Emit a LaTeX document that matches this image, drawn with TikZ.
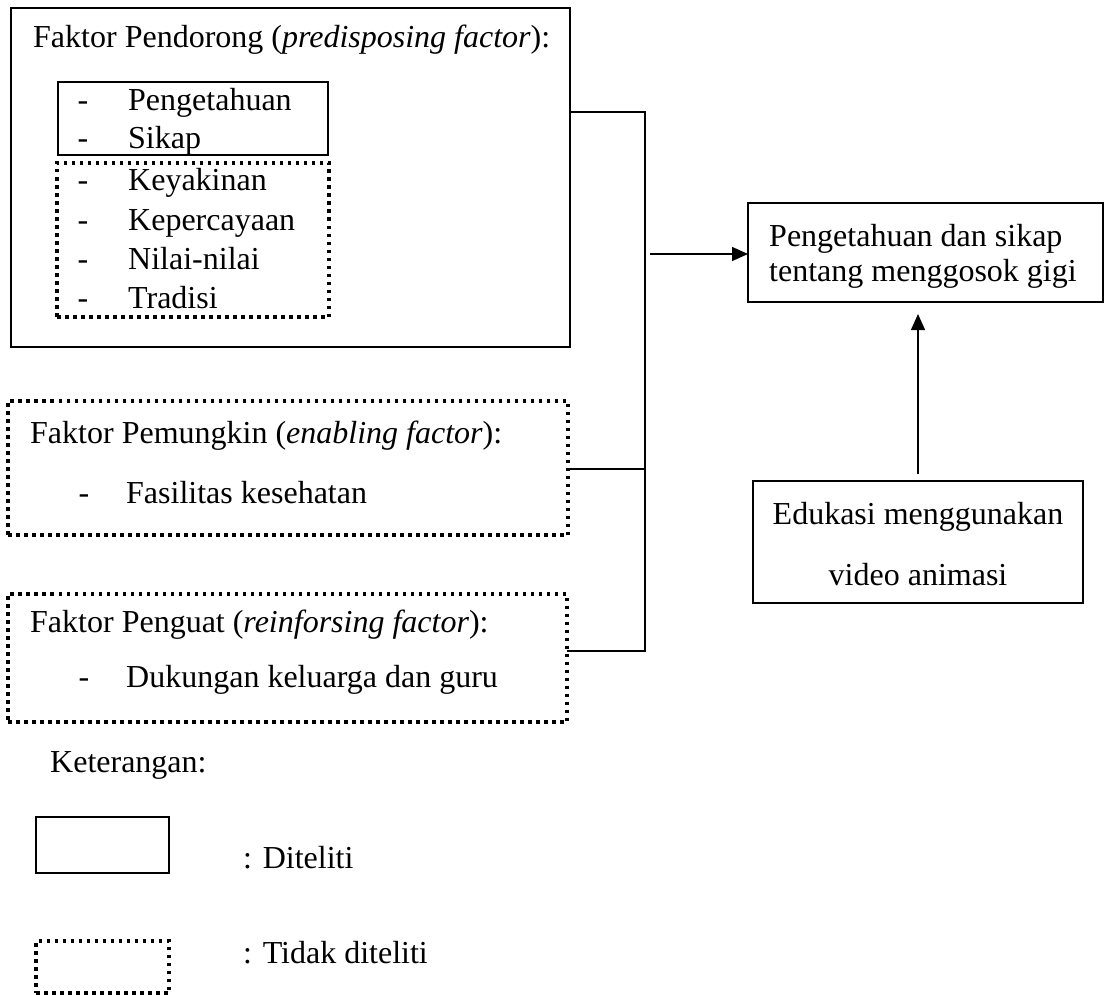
\documentclass[tikz,border=0pt]{standalone}
\usepackage{fontspec}
\setmainfont{Liberation Serif}
\usetikzlibrary{arrows.meta}
\tikzset{
  box/.style={draw, line width=1.3pt, rectangle, anchor=north west, inner sep=0pt, outer sep=0pt},
  dotbox/.style={draw, line width=3.5pt, dash pattern=on 3.5pt off 4.5pt, rectangle, anchor=north west, inner sep=0pt, outer sep=0pt},
  txt/.style={anchor=mid west, inner sep=0pt, yshift=-8pt, font=\fontsize{32}{38}\selectfont},
  dashtxt/.style={anchor=mid, inner sep=0pt, yshift=-8pt, font=\fontsize{32}{38}\selectfont},
  ctxt/.style={anchor=mid, inner sep=0pt, yshift=-8pt, font=\fontsize{32}{38}\selectfont},
  conn/.style={line width=1.3pt},
  arr/.style={line width=1.3pt, -{Triangle[length=16pt, width=14pt]}},
}
\begin{document}
\begin{tikzpicture}[x=1pt, y=-1pt]
\useasboundingbox (0,0) rectangle (1105,995);
% Box 1
\node[box, minimum width=559pt, minimum height=339pt] (b1) at (11,8) {};
\node[txt] (h1) at (33,37) {Faktor Pendorong (\textit{predisposing factor}):};
\node[box, minimum width=270pt, minimum height=73pt] (b1s) at (58,82) {};
\node[dotbox, minimum width=272pt, minimum height=154pt] (b1d) at (57,163) {};
\node[dashtxt] (d1) at (83,100) {-};
\node[txt] (i1) at (128,100) {Pengetahuan};
\node[dashtxt] (d2) at (83,138) {-};
\node[txt] (i2) at (128,138) {Sikap};
\node[dashtxt] (d3) at (83,180) {-};
\node[txt] (i3) at (128,180) {Keyakinan};
\node[dashtxt] (d4) at (83,220) {-};
\node[txt] (i4) at (128,220) {Kepercayaan};
\node[dashtxt] (d5) at (83,259) {-};
\node[txt] (i5) at (128,259) {Nilai-nilai};
\node[dashtxt] (d6) at (83,298) {-};
\node[txt] (i6) at (128,298) {Tradisi};
% Box 2
\node[dotbox, minimum width=560pt, minimum height=134pt] (b2) at (8,401) {};
\node[txt] (h2) at (30,433) {Faktor Pemungkin (\textit{enabling factor}):};
\node[dashtxt] (d7) at (84,493) {-};
\node[txt] (i7) at (126,493) {Fasilitas kesehatan};
% Box 3
\node[dotbox, minimum width=559pt, minimum height=128pt] (b3) at (8,594) {};
\node[txt] (h3) at (30,622) {Faktor Penguat (\textit{reinforsing factor}):};
\node[dashtxt] (d8) at (84,677) {-};
\node[txt] (i8) at (126,677) {Dukungan keluarga dan guru};
% Target
\node[box, minimum width=355pt, minimum height=99pt] (t) at (748,203) {};
\node[txt] (t1) at (769,236) {Pengetahuan dan sikap};
\node[txt] (t2) at (769,271) {tentang menggosok gigi};
% Education
\node[box, minimum width=330pt, minimum height=122pt] (e) at (753,481) {};
\node[ctxt] (e1) at (918,514) {Edukasi menggunakan};
\node[ctxt] (e2) at (918,575) {video animasi};
% Connectors
\coordinate (j1) at (645,112);
\coordinate (j2) at (645,469);
\coordinate (j3) at (645,651);
\coordinate (jm) at (645,254);
\draw[conn] (j1 -| b1.east) -- (j1) -- (j3) -- (j3 -| b3.east);
\draw[conn] (j2 -| b2.east) -- (j2);
\draw[arr, shorten <=5pt] (jm) -- (jm -| t.west);
\draw[arr, shorten <=7pt, shorten >=12pt] (e.north) -- (e.north |- t.south);
% Legend
\node[txt] (k) at (50,762) {Keterangan:};
\node[box, line width=2.6pt, minimum width=133pt, minimum height=56pt] (ls) at (36,817) {};
\node[txt] (lst) at (243,858) {: Diteliti};
\node[dotbox, minimum width=133pt, minimum height=52pt] (ld) at (36,941) {};
\node[txt] (ldt) at (243,953) {: Tidak diteliti};
\end{tikzpicture}
\end{document}
